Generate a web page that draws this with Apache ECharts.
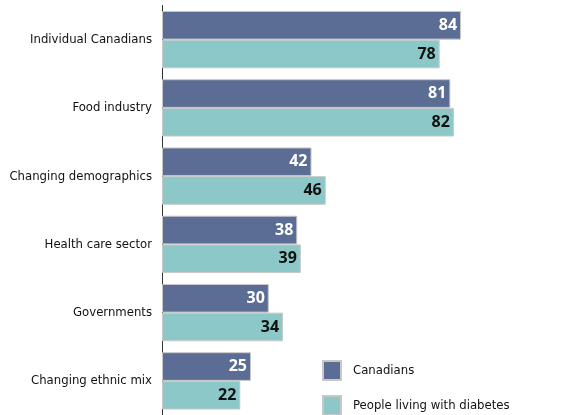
<!DOCTYPE html>
<html>
<head>
<meta charset="utf-8">
<script src="https://cdn.jsdelivr.net/npm/echarts@6/dist/echarts.min.js"></script>
<style>
  html, body { margin: 0; padding: 0; background: #fff; }
  #chart { width: 564px; height: 415px; }
</style>
</head>
<body>
<div id="chart"></div>
<script>
// Who is responsible for healthy eating: share of respondents (%)
const categories = [
  'Individual Canadians',
  'Food industry',
  'Changing demographics',
  'Health care sector',
  'Governments',
  'Changing ethnic mix'
];
const canadians = [84, 81, 42, 38, 30, 25];
const diabetes = [78, 82, 46, 39, 34, 22];
const seriesNames = ['Canadians', 'People living with diabetes'];

const font = '"DejaVu Sans Condensed", "Liberation Sans Narrow", sans-serif';
const valueFont = '"Open Sans", sans-serif';

const chart = echarts.init(document.getElementById('chart'), null, { renderer: 'canvas' });

chart.setOption({
  animation: false,
  backgroundColor: '#ffffff',
  grid: { left: 162, top: 5.5, width: 356, height: 415, containLabel: false },
  xAxis: {
    type: 'value',
    min: 0,
    max: 100,
    show: false
  },
  yAxis: {
    type: 'category',
    data: categories,
    inverse: true,
    axisLine: { show: true, lineStyle: { color: '#333333', width: 1 } },
    axisTick: { show: false },
    axisLabel: { color: '#111111', fontFamily: font, fontSize: 13, margin: 10 }
  },
  legend: {
    orient: 'vertical',
    left: 322,
    top: 360,
    padding: 0,
    height: 60,
    itemWidth: 18,
    itemHeight: 19,
    itemGap: 14,
    icon: 'rect',
    textStyle: { color: '#111111', fontFamily: font, fontSize: 13, padding: [0, 0, 0, 7] },
    data: seriesNames
  },
  series: [
    {
      name: seriesNames[0],
      type: 'bar',
      data: canadians,
      barGap: '0%',
      barCategoryGap: '16%',
      itemStyle: { color: '#5b6d94', borderColor: '#c8c8c8', borderWidth: 1 },
      label: {
        show: true,
        position: 'insideRight',
        distance: 4,
        color: '#ffffff',
        fontFamily: valueFont,
        fontWeight: 'bold',
        fontSize: 16
      }
    },
    {
      name: seriesNames[1],
      type: 'bar',
      data: diabetes,
      itemStyle: { color: '#8cc8c8', borderColor: '#c8c8c8', borderWidth: 1 },
      label: {
        show: true,
        position: 'insideRight',
        distance: 4,
        color: '#111111',
        fontFamily: valueFont,
        fontWeight: 'bold',
        fontSize: 16
      }
    }
  ]
});
</script>
</body>
</html>
